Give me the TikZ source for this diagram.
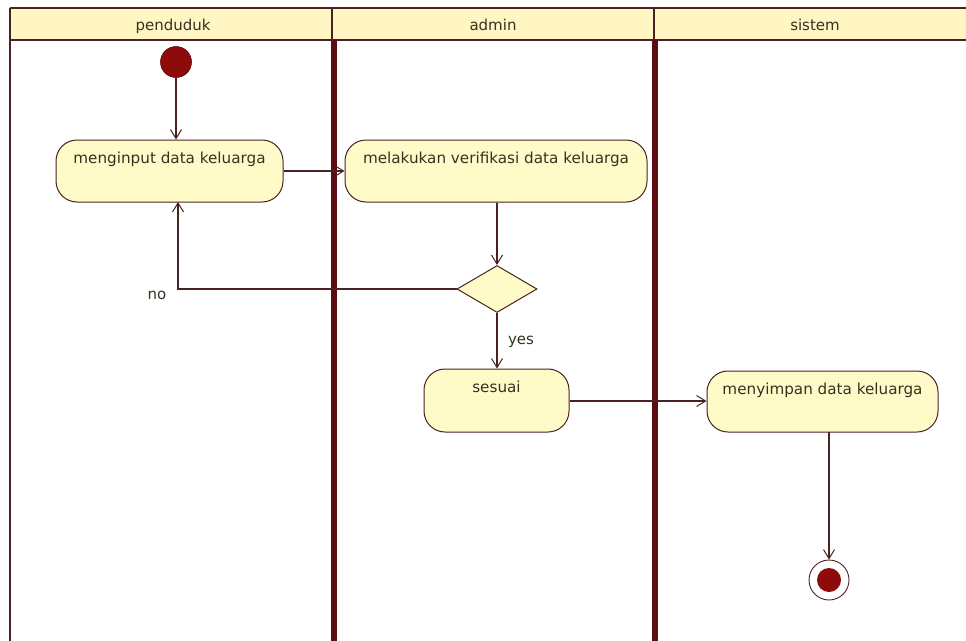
\documentclass[tikz,border=0pt]{standalone}
\usepackage{fontspec}
\setmainfont{DejaVu Sans}
\usetikzlibrary{arrows.meta,shapes.geometric}

\definecolor{laneline}{HTML}{5E0B14}
\definecolor{edge}{HTML}{4A2222}
\definecolor{headfill}{HTML}{FFF6C4}
\definecolor{actfill}{HTML}{FFFBC8}
\definecolor{ink}{HTML}{333322}
\definecolor{dot}{HTML}{8E0B0B}

\tikzset{
  lanehead/.style={font=\fontsize{15}{17}\selectfont, text=ink, anchor=base},
  activity/.style={draw=edge, line width=1pt, fill=actfill, rounded corners=21pt,
    font=\fontsize{15.2}{17}\selectfont, text=ink, inner xsep=0pt, inner ysep=5pt,
    text height=18pt},
  decision/.style={diamond, draw=edge, line width=1pt, fill=actfill, inner sep=0pt,
    minimum width=80pt, minimum height=47pt},
  flow/.style={draw=edge, line width=1.2pt, -{Straight Barb[length=9pt,width=11pt,line width=1pt]}},
  guard/.style={font=\fontsize{15}{17}\selectfont, text=ink},
}

\begin{document}
\begin{tikzpicture}[x=1pt,y=-1pt]
  \useasboundingbox (0,0) rectangle (966,640);
  \fill[white] (0,0) rectangle (966,640);

  % swimlane header band
  \fill[headfill] (10,8) rectangle (970,40);
  \draw[edge, line width=2pt] (10,8) -- (970,8);
  \draw[edge, line width=2.5pt] (10,40) -- (970,40);
  \draw[edge, line width=2pt] (332,8) -- (332,40);
  \draw[edge, line width=2pt] (653.5,8) -- (653.5,40);
  % lane borders
  \draw[edge, line width=2.5pt] (10,8) -- (10,645);
  \draw[laneline, line width=5.5pt] (334,40) -- (334,645);
  \draw[laneline, line width=5.5pt] (655,40) -- (655,645);

  \node[lanehead] (hPenduduk) at (173,30) {penduduk};
  \node[lanehead] (hAdmin) at (493,30) {admin};
  \node[lanehead] (hSistem) at (815,30) {sistem};

  % initial and final nodes
  \node[circle, fill=dot, draw=dot!70!black, line width=0.6pt, minimum size=31pt, inner sep=0pt] (start) at (176,62) {};
  \node[circle, draw=edge, line width=0.9pt, fill=white, minimum size=40pt, inner sep=0pt] (final) at (829,580) {};
  \node[circle, fill=dot, minimum size=24pt, inner sep=0pt] (finalDot) at (final.center) {};

  % actions
  \node[activity, minimum width=227pt, text depth=34pt] (input) at (169.5,171) {menginput data keluarga};
  \node[activity, minimum width=302pt, text depth=34pt] (verify) at (496,171) {melakukan verifikasi data keluarga};
  \node[decision] (check) at (497,289) {};
  \node[activity, minimum width=145pt, text depth=35pt] (match) at (496.5,400.5) {sesuai};
  \node[activity, minimum width=231pt, text depth=33pt] (store) at (822.5,401.5) {menyimpan data keluarga};

  % control flows
  \draw[flow] (start.south) -- (input.north -| start);
  \draw[flow] (input.east) -- (verify.west);
  \draw[flow] (verify.south -| check) -- (check.north);
  \coordinate (back) at (178,202);
  \draw[flow] (check.west) -| (back);
  \draw[flow] (check.south) -- (match.north -| check);
  \draw[flow] (match.east |- 0,401) -- (store.west |- 0,401);
  \coordinate (down) at (829,432);
  \draw[flow] (down) -- (final.north);

  \node[guard] (noLbl) at (157,295) {no};
  \node[guard] (yesLbl) at (521,342) {yes};
\end{tikzpicture}
\end{document}
